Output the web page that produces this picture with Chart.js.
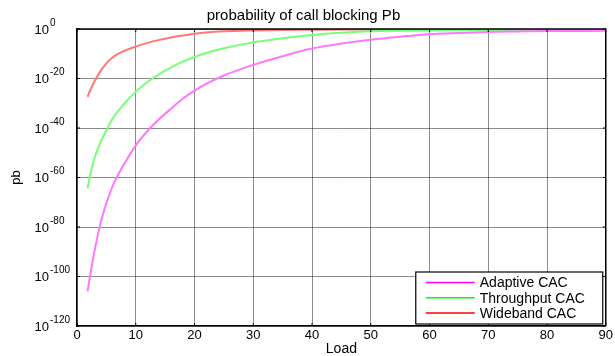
<!DOCTYPE html>
<html lang="en">
<head>
    <meta charset="UTF-8">
    <title>probability of call blocking Pb</title>
    <script src="https://cdn.jsdelivr.net/npm/chart.js"></script>
    <style>
        body {
            margin: 0;
            background-color: #ffffff;
        }
        #chartContainer {
            width: 615px;
            height: 356px;
        }
    </style>
</head>
<body>
    <div id="chartContainer">
        <canvas id="pbChart"></canvas>
    </div>

    <script>
        // Load values (x axis)
        const loads = [1.8, 2.2, 3, 4, 5, 6, 8, 10, 12, 14, 16, 18, 20, 22, 25, 30, 35, 40, 45, 50, 55, 60, 65, 70, 75, 80, 85, 90];

        // Blocking probability, stored as log10(pb)
        const adaptiveCAC = [-106, -100, -89.5, -78.5, -70.5, -63.8, -54.6, -47, -41.2, -36.4, -32.2, -28.2, -24.9, -22.2, -18.8, -14.5, -11, -7.9, -5.9, -4.3, -3.1, -2.1, -1.6, -1.2, -1.0, -0.85, -0.8, -0.75];
        const throughputCAC = [-64.4, -59.5, -52, -45.8, -41, -36.5, -30.3, -25.3, -21.4, -18.2, -15.5, -13.2, -11.3, -9.7, -7.8, -5.4, -3.7, -2.4, -1.5, -0.9, -0.7, -0.6, -0.5, -0.4, -0.35, -0.3, -0.25, -0.2];
        const widebandCAC = [-27.4, -25, -21, -17, -13.9, -11.6, -8.9, -7.1, -5.6, -4.4, -3.4, -2.6, -1.9, -1.4, -0.95, -0.6, -0.4, -0.3, -0.2, -0.2, -0.2, -0.2, -0.2, -0.2, -0.2, -0.2, -0.2, -0.2];

        const seriesNames = ['Adaptive CAC', 'Throughput CAC', 'Wideband CAC'];
        const lineColors = ['#ff77ff', '#77ff77', '#ff7777'];
        const legendColors = ['#ff00ff', '#00ff00', '#ff0000'];

        const yTicks = [0, -20, -40, -60, -80, -100, -120];
        const xTicks = [0, 10, 20, 30, 40, 50, 60, 70, 80, 90];

        function toPoints(values) {
            return loads.map((x, i) => ({ x: x, y: values[i] }));
        }

        // y tick labels as 10 with a raised exponent
        const powerLabels = {
            id: 'powerLabels',
            afterDraw(chart) {
                const ctx = chart.ctx;
                const y = chart.scales.y;
                ctx.save();
                ctx.fillStyle = '#000';
                ctx.textBaseline = 'middle';
                yTicks.forEach(v => {
                    const py = y.getPixelForValue(v);
                    ctx.font = '13px "Liberation Sans", Arial, sans-serif';
                    ctx.textAlign = 'right';
                    ctx.fillText('10', 49, py + 1);
                    ctx.font = '10px "Liberation Sans", Arial, sans-serif';
                    ctx.textAlign = 'left';
                    ctx.fillText(String(v), 50, py - 6);
                });
                ctx.restore();
            }
        };

        // box round the plot, small inward tick marks, legend bottom right
        const frameAndLegend = {
            id: 'frameAndLegend',
            afterDraw(chart) {
                const ctx = chart.ctx;
                const a = chart.chartArea;
                const xs = chart.scales.x;
                const ys = chart.scales.y;
                ctx.save();
                ctx.strokeStyle = '#000';
                ctx.lineWidth = 1.5;
                ctx.beginPath();
                ctx.moveTo(a.left, a.top);
                ctx.lineTo(a.right, a.top);
                ctx.lineTo(a.right, a.bottom);
                ctx.stroke();

                ctx.lineWidth = 1;
                ctx.beginPath();
                xTicks.forEach(v => {
                    const px = xs.getPixelForValue(v);
                    ctx.moveTo(px, a.top);
                    ctx.lineTo(px, a.top + 3);
                    ctx.moveTo(px, a.bottom);
                    ctx.lineTo(px, a.bottom - 3);
                });
                yTicks.forEach(v => {
                    const py = ys.getPixelForValue(v);
                    ctx.moveTo(a.left, py);
                    ctx.lineTo(a.left + 3, py);
                    ctx.moveTo(a.right, py);
                    ctx.lineTo(a.right - 3, py);
                });
                ctx.stroke();

                const bx = a.right - 190;
                const by = a.bottom - 54;
                ctx.fillStyle = '#fff';
                ctx.fillRect(bx, by, 187, 52);
                ctx.lineWidth = 1.2;
                ctx.strokeRect(bx, by, 187, 52);

                ctx.font = '14px "Liberation Sans", Arial, sans-serif';
                ctx.textBaseline = 'middle';
                ctx.textAlign = 'left';
                seriesNames.forEach((name, i) => {
                    const ry = by + 10.5 + i * 15.3;
                    ctx.strokeStyle = legendColors[i];
                    ctx.lineWidth = 1.5;
                    ctx.beginPath();
                    ctx.moveTo(bx + 10, ry);
                    ctx.lineTo(bx + 59, ry);
                    ctx.stroke();
                    ctx.fillStyle = '#000';
                    ctx.fillText(name, bx + 64, ry + 1);
                });
                ctx.restore();
            }
        };

        const ctx = document.getElementById('pbChart').getContext('2d');
        new Chart(ctx, {
            type: 'line',
            data: {
                datasets: [adaptiveCAC, throughputCAC, widebandCAC].map((vals, i) => ({
                    label: seriesNames[i],
                    data: toPoints(vals),
                    borderColor: lineColors[i],
                    borderWidth: 2,
                    pointRadius: 0,
                    cubicInterpolationMode: 'monotone',
                    fill: false
                }))
            },
            options: {
                responsive: true,
                maintainAspectRatio: false,
                animation: false,
                layout: { padding: { left: 0, right: 8, top: 0, bottom: 0 } },
                plugins: {
                    legend: { display: false },
                    tooltip: { enabled: false },
                    title: {
                        display: true,
                        text: 'probability of call blocking Pb',
                        color: '#000',
                        font: { family: '"Liberation Sans", Arial, sans-serif', size: 15, weight: 'normal', lineHeight: 1.2 },
                        padding: { top: 7, bottom: 4 }
                    }
                },
                scales: {
                    x: {
                        type: 'linear',
                        min: 0,
                        max: 90,
                        afterBuildTicks(scale) {
                            scale.ticks = xTicks.map(v => ({ value: v }));
                        },
                        afterFit(scale) {
                            scale.height = 30;
                        },
                        grid: { color: 'rgba(0,0,0,0.45)', drawTicks: false },
                        border: { color: '#000', width: 1.5 },
                        ticks: {
                            color: '#000',
                            padding: 2,
                            maxRotation: 0,
                            font: { family: '"Liberation Sans", Arial, sans-serif', size: 13 }
                        },
                        title: {
                            display: true,
                            text: 'Load',
                            color: '#000',
                            padding: 0,
                            font: { family: '"Liberation Sans", Arial, sans-serif', size: 14, lineHeight: 1 }
                        }
                    },
                    y: {
                        type: 'linear',
                        min: -120,
                        max: 0,
                        afterBuildTicks(scale) {
                            scale.ticks = yTicks.map(v => ({ value: v }));
                        },
                        afterFit(scale) {
                            scale.width = 77;
                        },
                        grid: { color: 'rgba(0,0,0,0.45)', drawTicks: false },
                        border: { color: '#000', width: 1.5 },
                        ticks: { display: false },
                        title: {
                            display: true,
                            text: 'pb',
                            color: '#000',
                            padding: { top: 9.5, bottom: 0 },
                            font: { family: '"Liberation Sans", Arial, sans-serif', size: 13, lineHeight: 1 }
                        }
                    }
                }
            },
            plugins: [powerLabels, frameAndLegend]
        });
    </script>
</body>
</html>
